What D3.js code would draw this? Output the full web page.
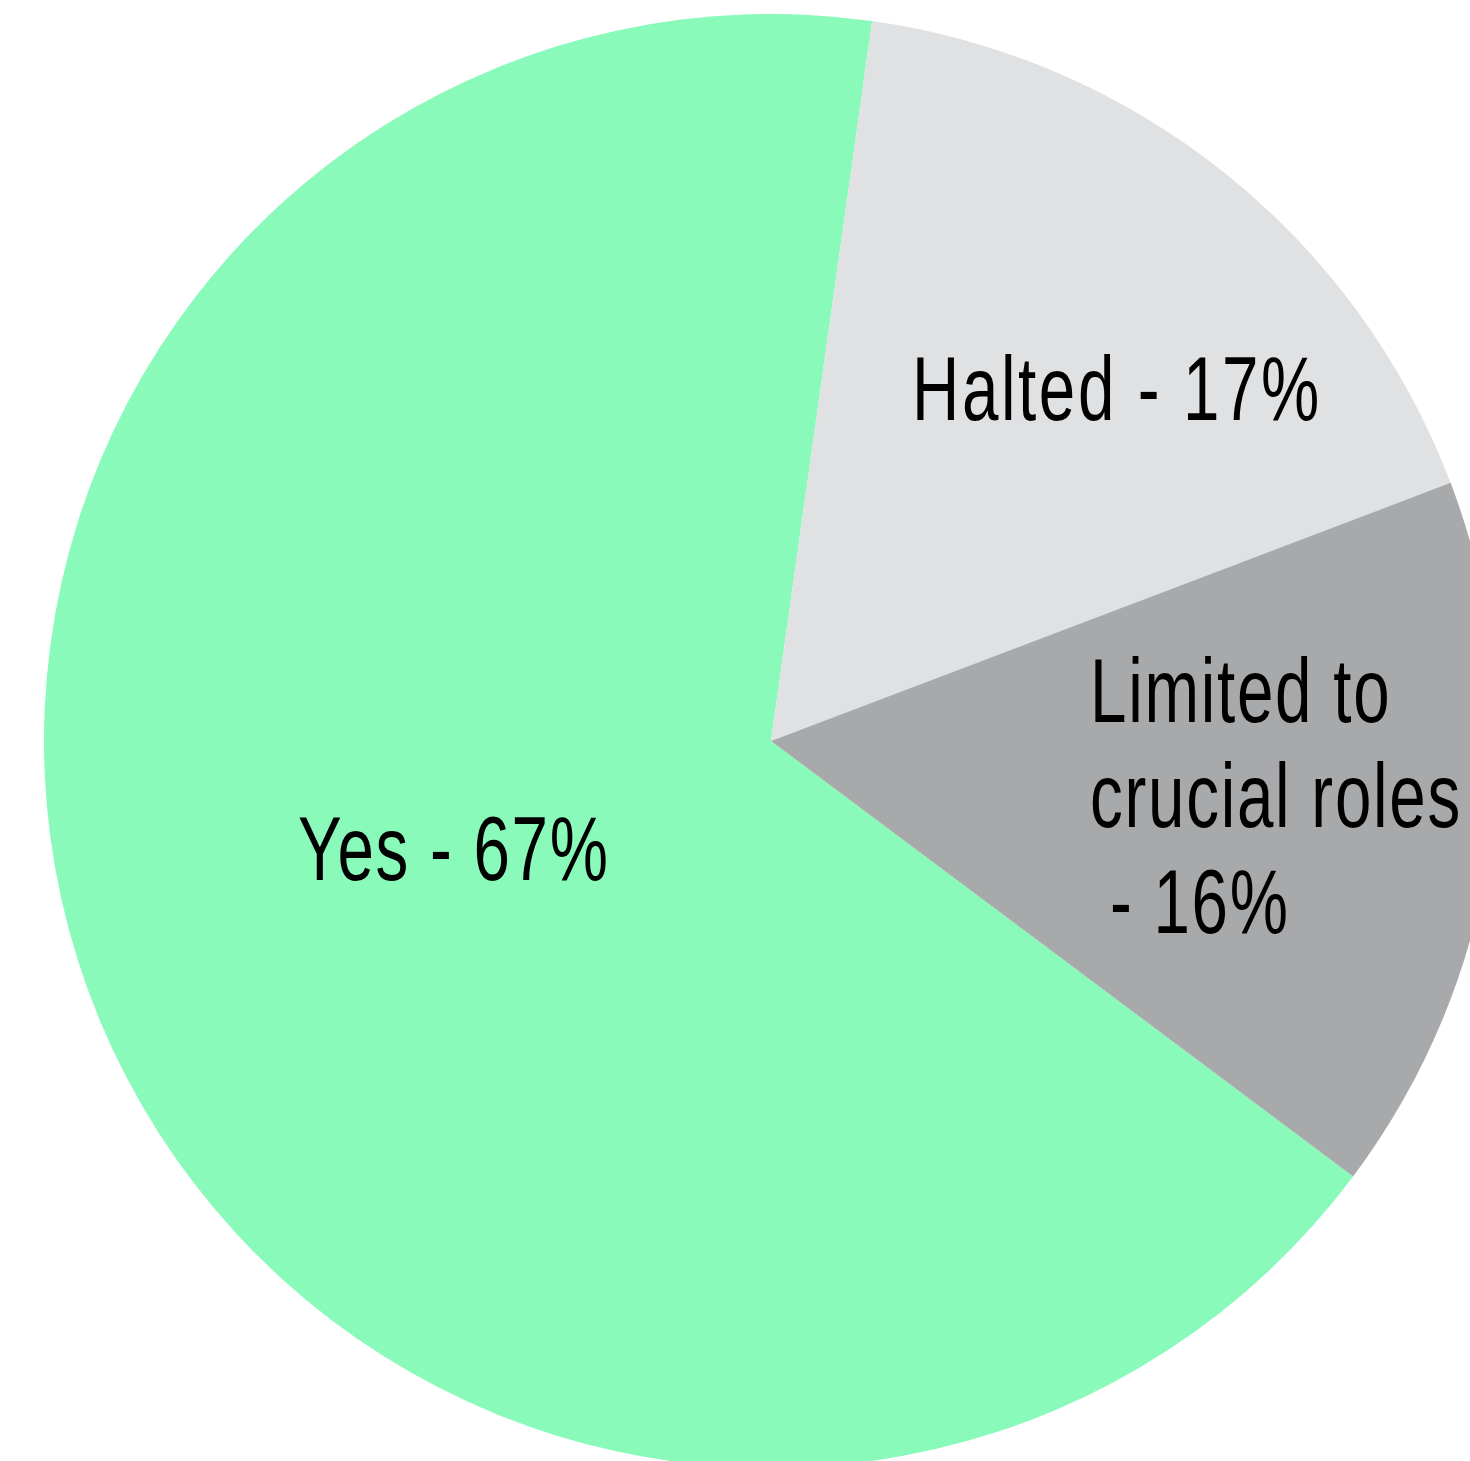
<!DOCTYPE html>
<html>
<head>
<meta charset="utf-8">
<script src="https://cdn.jsdelivr.net/npm/d3@7"></script>
<style>
  html, body { margin: 0; padding: 0; background: #ffffff; overflow: hidden; }
  svg { display: block; }
  text { font-family: "Liberation Sans", Arial, sans-serif; fill: #000; }
</style>
</head>
<body>
<svg id="chart" width="1470" height="1461"></svg>
<script>
// Survey answers and their shares (percent)
const categories = ["Yes", "Halted", "Limited to crucial roles"];
const shares = [67, 17, 16];
const labelLines = [
  ["Yes - 67%"],
  ["Halted - 17%"],
  ["Limited to", "crucial roles", " - 16%"]
];
const colors = ["#8afabb", "#e0e1e3", "#a8a9ab"];

const width = 1470, height = 1461;
const cx = 771, cy = 741, radius = 727;

const svg = d3.select("#chart");
const g = svg.append("g").attr("transform", `translate(${cx},${cy})`);

const start = 126.8 * Math.PI / 180;
const pie = d3.pie()
  .sort(null)
  .value(d => d)
  .startAngle(start)
  .endAngle(start + 2 * Math.PI);

const arc = d3.arc().innerRadius(0).outerRadius(radius);
const arcs = pie(shares);

g.selectAll("path.slice")
  .data(arcs)
  .join("path")
  .attr("class", "slice")
  .attr("d", arc)
  .attr("fill", (d, i) => colors[i]);

// Label anchors (left edge of first baseline), relative to the pie centre
const labelAnchors = [
  [-473, 139],
  [141, -321],
  [319, -19]
];
const fontSize = 91, lineHeight = 105.5, squeeze = 0.72;
const spacing = [2.4, 3.6, 2.4];

const labels = g.selectAll("g.label")
  .data(arcs)
  .join("g")
  .attr("class", "label")
  .attr("transform", (d, i) => `translate(${labelAnchors[i][0]},${labelAnchors[i][1]}) scale(${squeeze},1)`);

labels.each(function(d, i) {
  const t = d3.select(this).append("text")
    .attr("font-size", fontSize)
    .attr("letter-spacing", spacing[i])
    .attr("xml:space", "preserve")
    .style("white-space", "pre");
  labelLines[i].forEach((line, k) => {
    t.append("tspan").attr("x", 0).attr("y", k * lineHeight).text(line);
  });
});
</script>
</body>
</html>
